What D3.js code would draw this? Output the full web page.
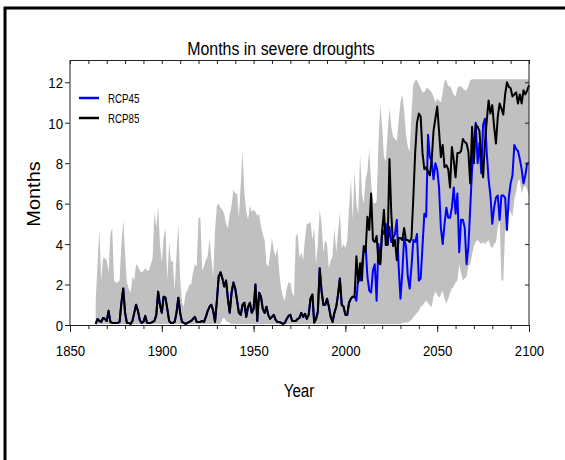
<!DOCTYPE html>
<html>
<head>
<meta charset="utf-8">
<title>Months in severe droughts</title>
<script src="https://cdn.jsdelivr.net/npm/d3@7"></script>
<style>
body{ margin:0; background:#fff; }
svg text{ font-family:"Liberation Sans", Arial, sans-serif; fill:#000; }
</style>
</head>
<body>
<svg id="chart" width="565" height="460"></svg>
<script>
// years 1864-2005 historical, 2006-2100 scenarios
var firstYear = 1864, lastHist = 2005, lastYear = 2100;

var histMonths = [
  0.05,0.3,0.2,0.15,0.35,0.3,0.2,0.7,0.15,0.1,
  0.1,0.1,0.1,0.15,1.1,1.8,0.6,0.1,0.1,0.05,
  0.2,0.6,1.0,0.7,0.25,0.1,0.15,0.45,0.1,0.1,
  0.1,0.15,0.2,0.5,1.65,1.0,0.6,1.4,1.35,0.8,
  0.2,0.1,0.1,0.15,0.6,1.35,0.6,0.15,0.1,0.05,
  0.1,0.15,0.2,0.3,0.4,0.15,0.15,0.15,0.2,0.15,
  0.4,0.7,0.9,1.0,0.7,0.15,1.2,2.4,2.6,2.3,
  1.9,2.2,1.3,0.6,1.6,2.1,1.8,1.2,0.6,0.5,
  1.0,1.1,0.4,0.9,1.1,0.6,0.8,2.0,0.2,1.6,
  1.4,0.8,0.6,0.9,0.5,0.3,0.4,0.5,0.25,0.15,
  0.15,0.1,0.05,0.1,0.3,0.45,0.5,0.2,0.2,0.2,
  0.3,0.35,0.6,0.4,0.55,0.3,0.5,1.3,1.5,0.12,
  0.3,0.66,2.8,1.7,1.0,1.0,1.3,0.9,0.4,0.15,
  0.6,0.9,1.5,2.3,1.0,0.9,0.5,0.5,1.1,1.3,
  1.4,1.4
];

var rcp45Months = [
  1.2,2.4,2.2,3.0,3.7,3.9,2.4,1.7,1.6,2.7,
  3.0,1.2,4.0,3.1,4.7,4.5,5.0,3.95,4.85,4.1,
  4.3,4.5,5.2,2.9,1.3,2.6,4.3,3.9,2.4,1.8,
  2.9,4.2,4.1,4.5,2.2,2.3,3.9,5.5,5.35,9.4,
  8.3,8.1,7.2,8.0,7.7,6.8,4.8,4.0,5.0,5.8,
  5.3,5.3,5.8,6.8,5.5,6.5,3.6,5.2,5.2,4.8,
  3.0,3.9,5.8,7.7,8.9,10.0,8.0,9.0,7.5,9.9,
  10.2,8.5,7.2,6.4,5.0,5.8,6.3,6.4,5.2,6.4,
  6.4,6.3,4.7,6.3,7.0,7.4,8.9,8.7,8.6,8.2,
  7.7,7.0,7.4,8.0,8.0
];

var rcp85Months = [
  3.4,2.1,3.05,2.2,3.9,3.6,5.35,4.7,6.5,4.2,
  4.1,4.4,3.1,3.0,4.6,5.7,3.95,4.0,8.2,5.5,
  3.9,4.2,3.2,4.3,4.3,4.2,4.8,4.2,4.2,4.1,
  4.3,6.3,8.5,10.0,10.45,10.3,8.5,7.7,7.8,7.6,
  7.4,8.15,9.6,10.2,10.8,9.6,8.3,8.9,7.8,7.9,
  7.7,6.8,8.8,8.15,7.3,8.5,8.5,8.6,9.2,9.05,
  8.97,8.56,7.0,9.8,8.0,9.9,9.8,9.6,8.3,7.3,
  9.0,10.1,11.1,10.45,10.87,9.8,8.97,10.3,10.95,10.7,
  10.4,11.4,12.0,11.77,11.7,11.3,11.4,11.5,10.95,11.4,
  10.95,11.6,11.4,11.6,11.85
];

// model spread (grey band), 1864-2100
var bandHigh = [
  1.2,3.0,4.7,2.2,3.3,3.3,3.2,2.6,4.5,4.8,
  2.2,2.1,2.1,2.2,4.0,5.2,3.5,2.1,1.8,1.6,
  2.4,2.2,3.0,2.9,2.7,2.6,2.7,2.8,2.7,2.7,
  3.0,3.3,5.6,4.8,5.9,4.0,3.1,4.3,4.8,2.2,
  4.1,3.1,3.2,1.7,3.5,5.0,2.3,1.1,0.9,1.6,
  1.7,2.0,2.0,2.6,3.0,2.9,5.3,5.3,2.7,2.9,
  3.2,3.4,4.3,3.3,2.4,4.7,5.9,6.0,5.8,5.7,
  5.5,5.0,4.8,5.5,5.9,6.7,6.5,6.5,5.3,7.0,
  8.6,6.5,5.6,5.2,5.9,5.6,5.7,5.6,5.4,5.5,
  4.9,4.5,4.2,3.0,2.9,3.5,4.3,3.7,3.4,3.8,
  2.6,1.8,1.4,1.2,1.8,2.1,2.1,1.6,1.4,4.4,
  4.5,3.3,3.6,3.2,4.3,5.0,5.0,5.1,4.2,4.8,
  3.0,4.0,5.7,5.0,3.6,4.2,4.0,2.8,3.2,3.4,
  4.8,3.6,4.6,5.6,3.8,4.0,3.8,4.2,5.8,7.2,
  5.2,7.6,6.0,5.5,8.4,6.5,6.0,7.2,7.6,8.7,
  7.0,6.1,6.0,6.1,9.0,10.9,9.8,8.3,8.1,9.5,
  10.7,9.8,9.3,9.2,9.1,10.1,11.0,11.4,10.6,9.4,
  8.8,8.6,10.5,11.9,12.1,12.1,11.9,11.7,11.5,11.5,
  11.7,11.7,11.6,11.5,11.3,11.0,11.2,11.1,11.0,11.5,
  12.1,12.1,11.8,11.8,11.6,11.4,11.3,11.7,11.8,11.8,
  11.7,11.6,11.6,11.8,12.1,12.15,12.15,12.15,12.15,12.15,
  12.15,12.15,12.15,12.15,12.15,12.15,12.15,12.15,12.15,12.15,
  12.15,12.15,12.15,12.15,12.15,12.15,12.15,12.15,12.15,12.15,
  12.15,12.15,12.15,12.15,12.15,12.15,12.15
];

var bandLow = [
  0.05,0.05,0.05,0.05,0.05,0.05,0.05,0.05,0.05,0.05,
  0.05,0.05,0.05,0.05,0.05,0.05,0.05,0.05,0.05,0.05,
  0.05,0.05,0.05,0.05,0.05,0.05,0.05,0.05,0.05,0.05,
  0.05,0.05,0.05,0.05,0.05,0.05,0.05,0.05,0.05,0.05,
  0.05,0.05,0.05,0.05,0.05,0.05,0.05,0.05,0.05,0.05,
  0.05,0.05,0.05,0.05,0.05,0.05,0.05,0.05,0.05,0.05,
  0.05,0.05,0.05,0.05,0.05,0.05,0.05,0.05,0.05,0.3,
  0.35,0.2,0.15,0.1,0.05,0.05,0.05,0.05,0.05,0.05,
  0.05,0.05,0.05,0.05,0.05,0.05,0.05,0.05,0.05,0.05,
  0.05,0.05,0.05,0.05,0.05,0.05,0.05,0.05,0.05,0.05,
  0.05,0.05,0.05,0.05,0.05,0.05,0.05,0.05,0.05,0.05,
  0.05,0.05,0.05,0.05,0.05,0.05,0.05,0.05,0.05,0.05,
  0.05,0.05,0.05,0.05,0.05,0.05,0.05,0.05,0.05,0.05,
  0.05,0.05,0.05,0.05,0.05,0.05,0.05,0.05,0.05,0.05,
  0.05,0.05,0.05,0.05,0.05,0.05,0.05,0.05,0.05,0.05,
  0.05,0.05,0.05,0.05,0.05,0.05,0.05,0.05,0.05,0.05,
  0.05,0.05,0.05,0.05,0.05,0.05,0.05,0.1,0.1,0.15,
  0.1,0.2,0.25,0.4,0.5,0.6,0.7,0.9,0.95,1.1,
  1.2,1.1,0.95,0.9,1.4,1.65,1.5,1.35,1.5,1.7,
  1.3,1.05,1.3,1.6,1.8,1.9,2.1,2.2,3.0,2.6,
  2.2,2.3,2.4,2.9,3.0,3.5,3.9,4.1,4.2,4.1,
  4.0,4.1,4.0,4.1,4.2,3.9,3.8,4.0,4.1,4.8,
  5.2,2.2,2.2,4.7,4.7,5.7,5.6,5.35,6.2,6.6,
  7.1,7.2,6.5,6.8,6.9,6.7,6.4
];

var seriesNames = ['RCP45', 'RCP85'];
var seriesColors = ['#0000ff', '#000000'];
var yearTicks = [1850, 1900, 1950, 2000, 2050, 2100];
var monthTicks = [0, 2, 4, 6, 8, 10, 12];

var SX = 0.88; // text in the original is squeezed horizontally

var svg = d3.select('#chart');

var x = d3.scaleLinear().domain([1850, 2100]).range([70, 529]);
var y = d3.scaleLinear().domain([0, 13.1]).range([325, 60]);

var years = d3.range(firstYear, lastYear + 1);
var histYears = d3.range(firstYear, lastHist + 1);
var futYears = d3.range(lastHist + 1, lastYear + 1);

var band = years.map(function(yr, i){ return { year: yr, lo: bandLow[i], hi: bandHigh[i] }; });

function joinSeries(fut){
  var out = histYears.map(function(yr, i){ return { year: yr, v: histMonths[i] }; });
  futYears.forEach(function(yr, i){ out.push({ year: yr, v: fut[i] }); });
  return out;
}
var rcp45 = joinSeries(rcp45Months);
var rcp85 = joinSeries(rcp85Months);

// outer frame (only top and left visible)
svg.append('path')
  .attr('d', 'M565,8 L5,8 L5,460')
  .attr('fill', 'none').attr('stroke', '#000').attr('stroke-width', 3);

// grey band
svg.append('path')
  .datum(band)
  .attr('fill', '#c0c0c0')
  .attr('d', d3.area()
    .x(function(d){ return x(d.year); })
    .y0(function(d){ return y(d.lo); })
    .y1(function(d){ return y(d.hi); }));

var line = d3.line()
  .x(function(d){ return x(d.year); })
  .y(function(d){ return y(d.v); });

[rcp45, rcp85].forEach(function(s, i){
  svg.append('path')
    .datum(s)
    .attr('fill', 'none')
    .attr('stroke', seriesColors[i])
    .attr('stroke-width', 2)
    .attr('stroke-linejoin', 'round')
    .attr('d', line);
});

// axes
var axisColor = '#222';
function styleAxis(g){
  g.select('.domain').attr('stroke', axisColor);
  g.selectAll('.tick line').attr('stroke', axisColor);
}

var decades = d3.range(1850, 2101, 10);

svg.append('g').attr('transform', 'translate(0,325)')
  .call(d3.axisBottom(x).tickValues(decades).tickSize(4).tickFormat('').tickSizeOuter(0))
  .call(styleAxis);
var xb = svg.append('g').attr('transform', 'translate(0,325)')
  .call(d3.axisBottom(x).tickValues(yearTicks).tickSize(7).tickFormat(d3.format('d')).tickSizeOuter(0))
  .call(styleAxis);
xb.selectAll('.tick text')
  .attr('font-size', 15).attr('y', 31).attr('dy', 0)
  .attr('font-family', '"Liberation Sans", Arial, sans-serif')
  .attr('transform', 'scale(' + SX + ',1)');

svg.append('g').attr('transform', 'translate(0,60)')
  .call(d3.axisTop(x).tickValues(decades).tickSize(-4).tickFormat('').tickSizeOuter(0))
  .call(styleAxis);

var yl = svg.append('g').attr('transform', 'translate(70,0)')
  .call(d3.axisLeft(y).tickValues(monthTicks).tickSize(5).tickSizeOuter(0))
  .call(styleAxis);
yl.selectAll('.tick text')
  .attr('font-size', 15).attr('x', -7 / SX).attr('dy', '0.36em')
  .attr('font-family', '"Liberation Sans", Arial, sans-serif')
  .attr('transform', 'scale(' + SX + ',1)');
yl.select('.domain').attr('d', 'M0,' + y(0) + 'V60');

svg.append('g').attr('transform', 'translate(529,0)')
  .call(d3.axisRight(y).tickValues(monthTicks).tickSize(-4).tickFormat('').tickSizeOuter(0))
  .call(styleAxis)
  .select('.domain').attr('d', 'M0,' + y(0) + 'V60');

// text helper
function label(px, py, txt, size, anchor, sx, rot){
  return svg.append('text')
    .attr('transform', 'translate(' + px + ',' + py + ')' + (rot ? ' rotate(' + rot + ')' : '') + ' scale(' + sx + ',1)')
    .attr('text-anchor', anchor || 'middle')
    .attr('font-size', size)
    .text(txt);
}

label(281, 55, 'Months in severe droughts', 17.7, 'middle', 0.9);
label(299, 397, 'Year', 19, 'middle', 0.8);
label(40, 194, 'Months', 19, 'middle', 1.05, -90);

// legend
seriesNames.forEach(function(name, i){
  var ly = 98 + i * 20;
  svg.append('line')
    .attr('x1', 79).attr('x2', 99).attr('y1', ly).attr('y2', ly)
    .attr('stroke', seriesColors[i]).attr('stroke-width', 2.5);
  label(108, ly + 4.5, name, 12.5, 'start', 0.78);
});
</script>
</body>
</html>
